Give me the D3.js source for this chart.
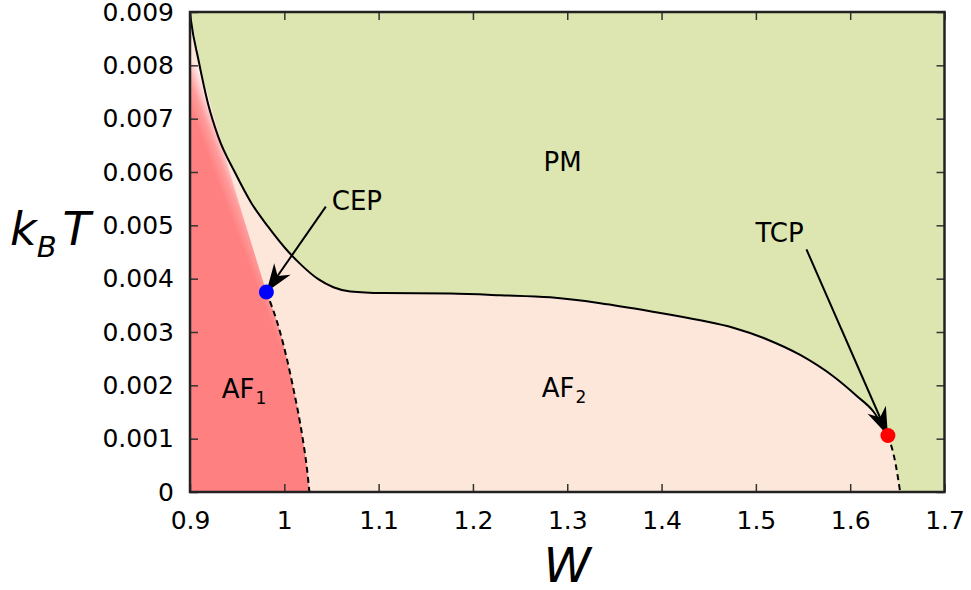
<!DOCTYPE html>
<html>
<head>
<meta charset="utf-8">
<script src="https://cdn.jsdelivr.net/npm/d3@7"></script>
<style>
body { margin: 0; background: #fff; }
text { font-family: "DejaVu Sans", sans-serif; }
</style>
</head>
<body>
<div id="chart"></div>
<script>
// PM boundary (solid line), from top-left corner down to the TCP
const pmW = [0.900, 0.901, 0.909, 0.919, 0.930, 0.948, 0.965, 0.983, 1.001, 1.019, 1.036, 1.052, 1.070,
             1.105, 1.176, 1.229, 1.282, 1.335, 1.388, 1.441, 1.476, 1.512, 1.547, 1.582, 1.607, 1.625, 1.640];
const pmT = [0.00900, 0.00885, 0.00810, 0.00729, 0.00666, 0.00598, 0.00542, 0.00497, 0.00457, 0.00424, 0.00399, 0.00384, 0.00376,
             0.00373, 0.00372, 0.00369, 0.00365, 0.00354, 0.00339, 0.00322, 0.00308, 0.00286, 0.00257, 0.00217, 0.00180, 0.00150, 0.00106];

// AF1 / AF2 boundary (dashed), CEP down to T = 0
const af12W = [0.981, 0.9955, 1.009, 1.0196, 1.0236, 1.0266];
const af12T = [0.00375, 0.00300, 0.00199, 0.00099, 0.00050, 0];

// AF2 / PM boundary below the TCP (dashed)
const tcpW = [1.640, 1.648, 1.653];
const tcpT = [0.00106, 0.00054, 0];

// upper edge of the AF1 region, from the left axis down to the CEP
const af1W = [0.900, 0.9035, 0.9124, 0.9265, 0.9406, 0.965, 0.981];
const af1T = [0.0081, 0.00804, 0.00779, 0.00698, 0.00610, 0.00467, 0.00375];
// where the red starts to fade out
const af1CoreW = [0.965, 0.916];
const af1CoreT = [0.00467, 0.00698];

const cep = {W: 0.981, T: 0.00375};
const tcp = {W: 1.640, T: 0.00106};

const xTicks = [0.9, 1.0, 1.1, 1.2, 1.3, 1.4, 1.5, 1.6, 1.7];
const xTickLabels = ['0.9', '1', '1.1', '1.2', '1.3', '1.4', '1.5', '1.6', '1.7'];
const yTicks = [0, 0.001, 0.002, 0.003, 0.004, 0.005, 0.006, 0.007, 0.008, 0.009];
const yTickLabels = ['0', '0.001', '0.002', '0.003', '0.004', '0.005', '0.006', '0.007', '0.008', '0.009'];

const width = 971, height = 590;
const pLeft = 190, pRight = 944.5, pTop = 12, pBottom = 492;

const green = '#dde6b0', pink = '#fde7da', red = '#ff8080';

const x = d3.scaleLinear().domain([0.9, 1.7]).range([pLeft, pRight]);
const y = d3.scaleLinear().domain([0, 0.009]).range([pBottom, pTop]);

const svg = d3.select('#chart').append('svg')
    .attr('width', width)
    .attr('height', height);

const defs = svg.append('defs');
defs.append('clipPath').attr('id', 'plotClip')
    .append('rect').attr('x', pLeft).attr('y', pTop).attr('width', pRight - pLeft).attr('height', pBottom - pTop);

// gradient for the fading red of AF1, perpendicular to the core edge
const c0 = [x(af1CoreW[0]), y(af1CoreT[0])], c1 = [x(af1CoreW[1]), y(af1CoreT[1])];
let dx = c1[0] - c0[0], dy = c1[1] - c0[1];
const len = Math.hypot(dx, dy);
const nx = -dy / len, ny = dx / len; // points to the right
const cm = [(c0[0] + c1[0]) / 2, (c0[1] + c1[1]) / 2];
const grad = defs.append('linearGradient').attr('id', 'af1Grad')
    .attr('gradientUnits', 'userSpaceOnUse')
    .attr('x1', cm[0] - 10 * nx).attr('y1', cm[1] - 10 * ny)
    .attr('x2', cm[0] + 12 * nx).attr('y2', cm[1] + 12 * ny);
grad.append('stop').attr('offset', 0).attr('stop-color', red);
grad.append('stop').attr('offset', 0.45).attr('stop-color', '#ff9c9c');
grad.append('stop').attr('offset', 1).attr('stop-color', '#fff4f2');

const line = d3.line().x(d => x(d[0])).y(d => y(d[1])).curve(d3.curveMonotoneX);
const zip = (a, b) => a.map((v, i) => [v, b[i]]);

const pmPts = zip(pmW, pmT);
const af12Pts = zip(af12W, af12T);
const tcpPts = zip(tcpW, tcpT);
const af1Pts = zip(af1W, af1T);

const plot = svg.append('g').attr('clip-path', 'url(#plotClip)');

// PM everywhere, then AF2 below the boundary, then AF1
plot.append('rect').attr('x', pLeft).attr('y', pTop).attr('width', pRight - pLeft).attr('height', pBottom - pTop)
    .attr('fill', green);

const pinkPath = line(pmPts) + line(tcpPts).replace('M', 'L') +
    'L' + x(0.9) + ',' + y(0) + 'Z';
plot.append('path').attr('d', pinkPath).attr('fill', pink);

const af1Path = 'M' + x(0.9) + ',' + y(0) +
    line(af1Pts).replace('M', 'L') +
    line(af12Pts).replace('M', 'L') + 'Z';
plot.append('path').attr('d', af1Path).attr('fill', 'url(#af1Grad)');

// boundaries
plot.append('path').attr('d', line(pmPts)).attr('fill', 'none')
    .attr('stroke', '#000').attr('stroke-width', 2);
plot.append('path').attr('d', line(af12Pts)).attr('fill', 'none')
    .attr('stroke', '#000').attr('stroke-width', 2).attr('stroke-dasharray', '6,4');
plot.append('path').attr('d', line(tcpPts)).attr('fill', 'none')
    .attr('stroke', '#000').attr('stroke-width', 2).attr('stroke-dasharray', '6,4');

// axes, ticks pointing inwards on all four sides
function styleAxis(g) {
    g.select('.domain').remove();
    g.selectAll('.tick line').attr('stroke', '#333').attr('stroke-width', 1.5);
    g.selectAll('.tick text').attr('fill', '#000').style('font-family', '"DejaVu Sans", sans-serif').style('font-size', '25px');
}

svg.append('g').attr('transform', `translate(0,${pBottom})`)
    .call(d3.axisBottom(x).tickValues(xTicks).tickFormat((d, i) => xTickLabels[i])
        .tickSizeInner(-8).tickSizeOuter(0).tickPadding(19))
    .call(styleAxis);
svg.append('g').attr('transform', `translate(0,${pTop})`)
    .call(d3.axisTop(x).tickValues(xTicks).tickFormat('').tickSizeInner(-8).tickSizeOuter(0))
    .call(styleAxis);
svg.append('g').attr('transform', `translate(${pLeft},0)`)
    .call(d3.axisLeft(y).tickValues(yTicks).tickFormat((d, i) => yTickLabels[i])
        .tickSizeInner(-8).tickSizeOuter(0).tickPadding(16))
    .call(styleAxis);
svg.append('g').attr('transform', `translate(${pRight},0)`)
    .call(d3.axisRight(y).tickValues(yTicks).tickFormat('').tickSizeInner(-8).tickSizeOuter(0))
    .call(styleAxis);

svg.append('rect').attr('x', pLeft).attr('y', pTop).attr('width', pRight - pLeft).attr('height', pBottom - pTop)
    .attr('fill', 'none').attr('stroke', '#222').attr('stroke-width', 2.5);

// arrows with gnuplot-like filled heads
function arrow(tail, tip) {
    const x0 = x(tail[0]), y0 = y(tail[1]), x1 = x(tip[0]), y1 = y(tip[1]);
    const L = Math.hypot(x1 - x0, y1 - y0);
    const ux = (x1 - x0) / L, uy = (y1 - y0) / L;
    const px = -uy, py = ux;
    const hl = 28, hw = 10;
    svg.append('line').attr('x1', x0).attr('y1', y0)
        .attr('x2', x1 - 18 * ux).attr('y2', y1 - 18 * uy)
        .attr('stroke', '#000').attr('stroke-width', 2);
    const head = [
        [x1, y1],
        [x1 - hl * ux + hw * px, y1 - hl * uy + hw * py],
        [x1 - 0.7 * hl * ux, y1 - 0.7 * hl * uy],
        [x1 - hl * ux - hw * px, y1 - hl * uy - hw * py]
    ];
    svg.append('path').attr('d', 'M' + head.join('L') + 'Z').attr('fill', '#000');
}

arrow([1.044, 0.00535], [cep.W, cep.T]);
arrow([1.5536, 0.00455], [tcp.W, tcp.T]);

svg.append('circle').attr('cx', x(cep.W)).attr('cy', y(cep.T)).attr('r', 7.5).attr('fill', '#0000ff');
svg.append('circle').attr('cx', x(tcp.W)).attr('cy', y(tcp.T)).attr('r', 7.5).attr('fill', '#ff0000');

// region and point labels
function label(W, T, txt, sub, anchor) {
    const t = svg.append('text').attr('x', x(W)).attr('y', y(T))
        .attr('text-anchor', anchor || 'start').style('font-size', '26px').attr('fill', '#000');
    t.append('tspan').text(txt);
    if (sub) t.append('tspan').attr('dy', 6).attr('dx', 1).style('font-size', '17px').text(sub);
}
label(1.295, 0.00602, 'PM', null, 'middle');
label(0.9336, 0.00177, 'AF', '1');
label(1.273, 0.00179, 'AF', '2');
label(1.0503, 0.00529, 'CEP');
label(1.4995, 0.00469, 'TCP');

// axis titles
svg.append('text').attr('x', (pLeft + pRight) / 2).attr('y', 582).attr('text-anchor', 'middle')
    .style('font-size', '48px').style('font-style', 'italic').text('W');

const yl = svg.append('text').attr('x', 10).attr('y', 245).style('font-size', '46px').style('font-style', 'italic');
yl.append('tspan').text('k');
yl.append('tspan').attr('dy', 12).style('font-size', '29px').text('B');
yl.append('tspan').attr('dy', -12).attr('dx', 6).text('T');
</script>
</body>
</html>
